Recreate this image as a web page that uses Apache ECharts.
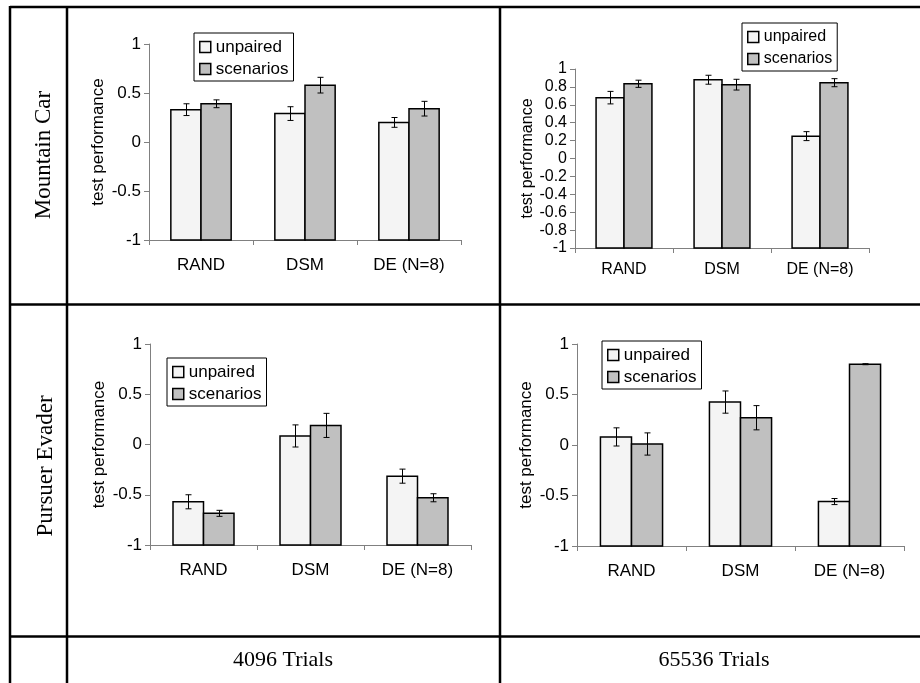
<!DOCTYPE html>
<html>
<head>
<meta charset="utf-8">
<script src="https://cdn.jsdelivr.net/npm/echarts@6.0.0/dist/echarts.min.js"></script>
<style>
html, body { margin: 0; padding: 0; background: #fff; }
#main { width: 920px; height: 683px; }
</style>
</head>
<body>
<div id="main"></div>
<script>
var categories = ['RAND', 'DSM', 'DE (N=8)'];
var seriesNames = ['unpaired', 'scenarios'];
var rowNames = ['Mountain Car', 'Pursuer Evader'];
var colNames = ['4096 Trials', '65536 Trials'];

// y ticks
var ticksHalf = [-1, -0.5, 0, 0.5, 1];
var ticksFifth = [-1, -0.8, -0.6, -0.4, -0.2, 0, 0.2, 0.4, 0.6, 0.8, 1];

// Mountain Car, 4096 trials
var mcShortUnpaired = [0.33, 0.29, 0.20];
var mcShortUnpairedErr = [0.06, 0.07, 0.05];
var mcShortScenarios = [0.39, 0.58, 0.34];
var mcShortScenariosErr = [0.04, 0.08, 0.075];

// Mountain Car, 65536 trials
var mcLongUnpaired = [0.68, 0.88, 0.25];
var mcLongUnpairedErr = [0.07, 0.05, 0.05];
var mcLongScenarios = [0.835, 0.825, 0.847];
var mcLongScenariosErr = [0.04, 0.06, 0.045];

// Pursuer Evader, 4096 trials
var peShortUnpaired = [-0.57, 0.085, -0.315];
var peShortUnpairedErr = [0.07, 0.11, 0.07];
var peShortScenarios = [-0.685, 0.19, -0.53];
var peShortScenariosErr = [0.03, 0.12, 0.04];

// Pursuer Evader, 65536 trials
var peLongUnpaired = [0.08, 0.425, -0.56];
var peLongUnpairedErr = [0.09, 0.11, 0.03];
var peLongScenarios = [0.01, 0.27, 0.80];
var peLongScenariosErr = [0.11, 0.12, 0.005];

var sans = '"Liberation Sans", Arial, sans-serif';
var serif = '"Liberation Serif", "Times New Roman", serif';
var barColors = ['#f4f4f4', '#c0c0c0'];

var panels = [
  { vals: [mcShortUnpaired, mcShortScenarios], errs: [mcShortUnpairedErr, mcShortScenariosErr], ticks: ticksHalf,
    grid: { left: 149, top: 44, width: 312, height: 196 }, gap: 0.42, font: 17, nameFont: 17, nameGap: 42, catMargin: 17,
    legend: { left: 194, top: 33 }, legendFont: 17 },
  { vals: [mcLongUnpaired, mcLongScenarios], errs: [mcLongUnpairedErr, mcLongScenariosErr], ticks: ticksFifth,
    grid: { left: 575, top: 69, width: 294, height: 179 }, gap: 0.43, font: 16, nameFont: 16, nameGap: 39, catMargin: 14,
    legend: { left: 742, top: 23 }, legendFont: 16 },
  { vals: [peShortUnpaired, peShortScenarios], errs: [peShortUnpairedErr, peShortScenariosErr], ticks: ticksHalf,
    grid: { left: 150, top: 344, width: 321, height: 201 }, gap: 0.43, font: 17, nameFont: 17, nameGap: 42, catMargin: 17,
    legend: { left: 167, top: 358 }, legendFont: 17 },
  { vals: [peLongUnpaired, peLongScenarios], errs: [peLongUnpairedErr, peLongScenariosErr], ticks: ticksHalf,
    grid: { left: 577, top: 344, width: 327, height: 202 }, gap: 0.43, font: 17, nameFont: 17, nameGap: 42, catMargin: 17,
    legend: { left: 602, top: 341 }, legendFont: 17 }
];

// bar drawn from the axis minimum up to the value, plus its error bar
function barRenderer(side, gap, base) {
  return function (params, api) {
    var c = api.value(0);
    var top = api.coord([c, api.value(1)]);
    var bottom = api.coord([c, base]);
    var lo = api.coord([c, api.value(2)]);
    var hi = api.coord([c, api.value(3)]);
    var band = api.size([1, 0])[0];
    var bw = band * (1 - gap) / 2;
    var x0 = side < 0 ? top[0] - bw : top[0];
    var cx = Math.round(x0 + bw / 2) + 0.5;
    var cap = 3;
    var st = { stroke: '#000', lineWidth: 1 };
    return {
      type: 'group',
      children: [
        { type: 'rect', shape: { x: x0, y: top[1], width: bw, height: bottom[1] - top[1] },
          style: { fill: api.visual('color'), stroke: '#000', lineWidth: 1.5 } },
        { type: 'line', shape: { x1: cx, y1: hi[1], x2: cx, y2: lo[1] }, style: st },
        { type: 'line', shape: { x1: cx - cap, y1: hi[1], x2: cx + cap, y2: hi[1] }, style: st },
        { type: 'line', shape: { x1: cx - cap, y1: lo[1], x2: cx + cap, y2: lo[1] }, style: st }
      ]
    };
  };
}

var grids = [], xAxes = [], yAxes = [], series = [], legends = [];
panels.forEach(function (p, k) {
  var yMin = p.ticks[0];
  var yMax = p.ticks[p.ticks.length - 1];
  var step = Math.round((p.ticks[1] - p.ticks[0]) * 1e6) / 1e6;
  grids.push(Object.assign({ outerBoundsMode: 'none', containLabel: false }, p.grid));
  xAxes.push({
    type: 'category', gridIndex: k, data: categories,
    axisLine: { onZero: false, lineStyle: { color: '#808080', width: 1 } },
    axisTick: { show: true, length: 5, interval: 0, lineStyle: { color: '#808080' } },
    axisLabel: { color: '#000', fontSize: p.font, fontFamily: sans, margin: p.catMargin, interval: 0 },
    splitLine: { show: false }
  });
  yAxes.push({
    type: 'value', gridIndex: k, min: yMin, max: yMax, interval: step,
    name: 'test performance', nameLocation: 'middle', nameRotate: 90, nameGap: p.nameGap, nameMoveOverlap: false,
    nameTextStyle: { color: '#000', fontSize: p.nameFont, fontFamily: sans },
    axisLine: { show: true, lineStyle: { color: '#808080', width: 1 } },
    axisTick: { show: true, length: 5, lineStyle: { color: '#808080' } },
    axisLabel: { color: '#000', fontSize: p.font, fontFamily: sans, margin: 8,
      formatter: function (v) { return String(Math.round(v * 1e6) / 1e6); } },
    splitLine: { show: false }
  });
  seriesNames.forEach(function (name, s) {
    series.push({
      type: 'custom', name: name, xAxisIndex: k, yAxisIndex: k,
      renderItem: barRenderer(s === 0 ? -1 : 1, p.gap, yMin),
      encode: { x: 0, y: [1, 2, 3] },
      itemStyle: { color: barColors[s] },
      data: categories.map(function (c, i) {
        return [i, p.vals[s][i], p.vals[s][i] - p.errs[s][i], p.vals[s][i] + p.errs[s][i]];
      }),
      animation: false, silent: true
    });
  });
  legends.push({
    data: seriesNames.map(function (name, s) {
      return { name: name, itemStyle: { color: barColors[s], borderColor: '#000', borderWidth: 1.5 } };
    }),
    orient: 'vertical', left: p.legend.left, top: p.legend.top,
    padding: [4, 5, 2, 5], itemGap: 2, itemWidth: 11, itemHeight: 11, icon: 'rect',
    borderColor: '#000', borderWidth: 1, backgroundColor: '#fff', selectedMode: false,
    textStyle: { color: '#000', fontSize: p.legendFont, fontFamily: sans, lineHeight: 20 }
  });
});

var lineStyle = { stroke: '#000', lineWidth: 2.5 };
var graphics = [
  { type: 'line', shape: { x1: 10, y1: 7, x2: 920, y2: 7 }, style: lineStyle },
  { type: 'line', shape: { x1: 10, y1: 304.5, x2: 920, y2: 304.5 }, style: lineStyle },
  { type: 'line', shape: { x1: 10, y1: 636.5, x2: 920, y2: 636.5 }, style: lineStyle },
  { type: 'line', shape: { x1: 10, y1: 6, x2: 10, y2: 683 }, style: lineStyle },
  { type: 'line', shape: { x1: 67, y1: 6, x2: 67, y2: 683 }, style: lineStyle },
  { type: 'line', shape: { x1: 500, y1: 6, x2: 500, y2: 683 }, style: lineStyle },
  { type: 'text', x: 44, y: 155, rotation: Math.PI / 2,
    style: { text: rowNames[0], font: '23px ' + serif, fill: '#000', textAlign: 'center', textVerticalAlign: 'middle' } },
  { type: 'text', x: 46, y: 466, rotation: Math.PI / 2,
    style: { text: rowNames[1], font: '23px ' + serif, fill: '#000', textAlign: 'center', textVerticalAlign: 'middle' } },
  { type: 'text', x: 283, y: 660,
    style: { text: colNames[0], font: '22px ' + serif, fill: '#000', textAlign: 'center', textVerticalAlign: 'middle' } },
  { type: 'text', x: 714, y: 660,
    style: { text: colNames[1], font: '22px ' + serif, fill: '#000', textAlign: 'center', textVerticalAlign: 'middle' } }
];

var chart = echarts.init(document.getElementById('main'));
chart.setOption({
  backgroundColor: '#fff',
  animation: false,
  grid: grids,
  xAxis: xAxes,
  yAxis: yAxes,
  legend: legends,
  series: series,
  graphic: graphics
});
</script>
</body>
</html>
